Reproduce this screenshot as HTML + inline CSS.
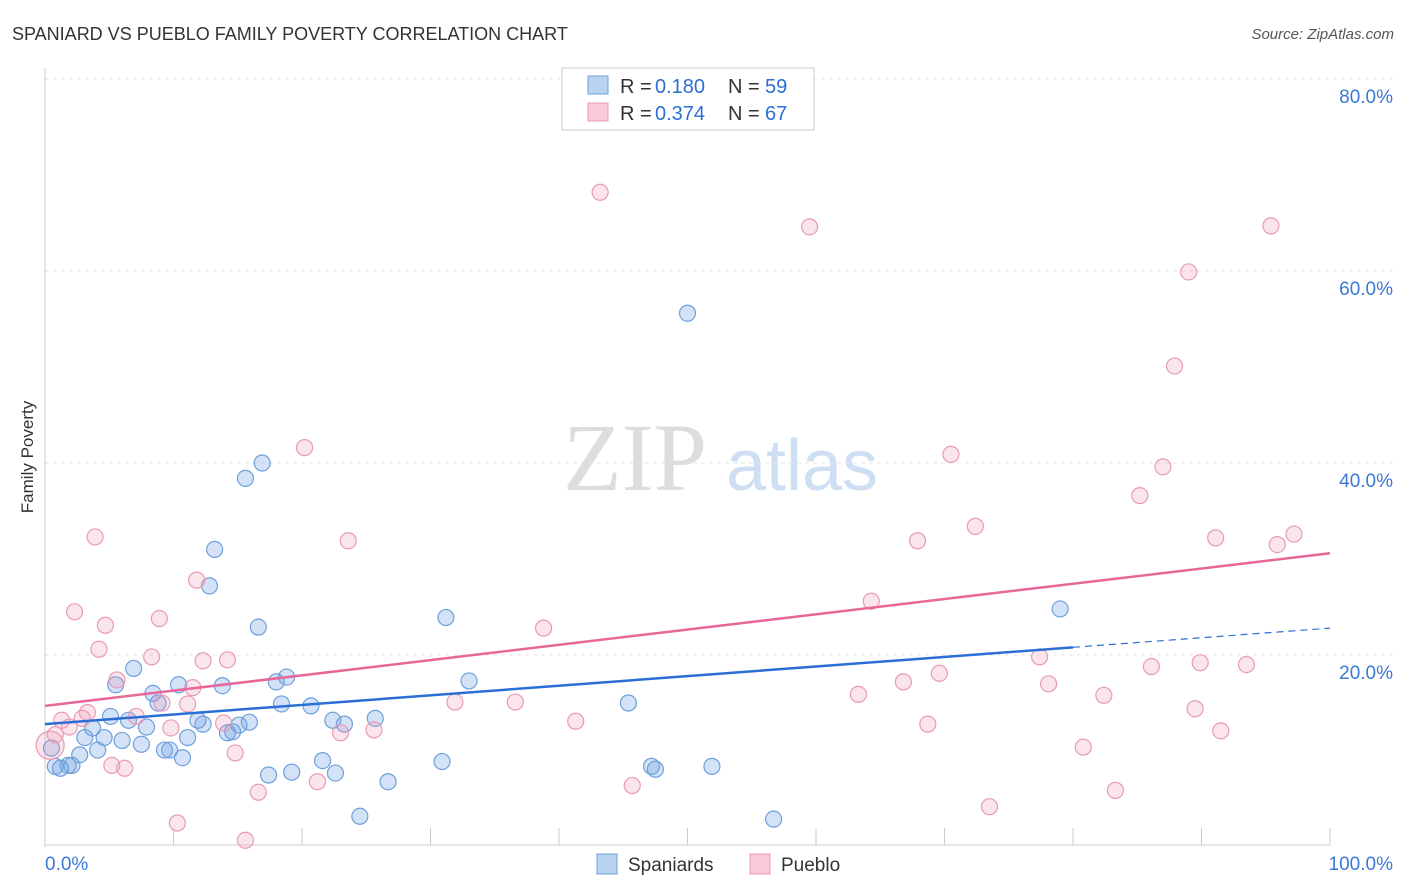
<!DOCTYPE html>
<html><head><meta charset="utf-8"><style>
body{margin:0;background:#fff;font-family:"Liberation Sans",sans-serif;}
svg{display:block}
</style></head><body>
<svg id="chart" width="1406" height="892">
<text x="12" y="40" font-size="18" fill="#333">SPANIARD VS PUEBLO FAMILY POVERTY CORRELATION CHART</text>
<text x="1394" y="39" font-size="15" fill="#555" font-style="italic" text-anchor="end">Source: ZipAtlas.com</text>
<text x="33" y="457" font-size="17" fill="#333" text-anchor="middle" transform="rotate(-90 33 457)">Family Poverty</text>
<g id="watermark">
<text x="635" y="490" font-size="96" fill="#ddd" font-family="Liberation Serif,serif" text-anchor="middle">ZIP</text>
<text x="802" y="490" font-size="72" fill="#cfdff3" text-anchor="middle">atlas</text>
</g>
<g id="grid"></g><g id="axes"></g><g id="pts"></g><g id="lines"></g>
<g>
<rect x="562" y="68" width="252" height="62" fill="#fff" stroke="#ccc"/>
<rect x="588" y="76" width="20" height="18" fill="#b9d3f3" stroke="#6fa0dc"/>
<rect x="588" y="103" width="20" height="18" fill="#f8c9d8" stroke="#e89ab5"/>
<text x="620" y="93" font-size="20" fill="#333">R =</text>
<text x="655" y="93" font-size="20" fill="#2b6fd6">0.180</text>
<text x="728" y="93" font-size="20" fill="#333">N =</text>
<text x="765" y="93" font-size="20" fill="#2b6fd6">59</text>
<text x="620" y="120" font-size="20" fill="#333">R =</text>
<text x="655" y="120" font-size="20" fill="#2b6fd6">0.374</text>
<text x="728" y="120" font-size="20" fill="#333">N =</text>
<text x="765" y="120" font-size="20" fill="#2b6fd6">67</text>
</g>
<g>
<rect x="597" y="854" width="20" height="20" fill="#b9d3f3" stroke="#6fa0dc"/>
<text x="628" y="871" font-size="19" fill="#333">Spaniards</text>
<rect x="750" y="854" width="20" height="20" fill="#f8c9d8" stroke="#e89ab5"/>
<text x="781" y="871" font-size="19" fill="#333">Pueblo</text>
</g>
</svg>
<script>
const yTicks=[20,40,60,80];
const xTickLabels=["0.0%","100.0%"];
const blueX=[0.5,0.8,1.2,1.8,2.1,2.7,3.1,3.7,4.1,4.6,5.1,5.5,6.0,6.5,6.9,7.5,7.9,8.4,8.8,9.3,9.7,10.4,10.7,11.1,11.9,12.3,12.8,13.2,13.8,14.2,14.6,15.1,15.6,15.9,16.6,16.9,17.4,18.0,18.4,18.8,19.2,20.7,21.6,22.4,22.6,23.3,24.5,25.7,26.7,30.9,31.2,33.0,45.4,47.2,47.5,50.0,51.9,56.7,79.0];
const blueY=[10.3,8.4,8.2,8.5,8.5,9.6,11.4,12.4,10.1,11.4,13.6,16.9,11.1,13.2,18.6,10.7,12.5,16.0,15.0,10.1,10.1,16.9,9.3,11.4,13.2,12.8,27.2,31.0,16.8,11.9,12.0,12.7,38.4,13.0,22.9,40.0,7.5,17.2,14.9,17.7,7.8,14.7,9.0,13.2,7.7,12.8,3.2,13.4,6.8,8.9,23.9,17.3,15.0,8.4,8.1,55.6,8.4,2.9,24.8];
const pinkX=[0.4,0.8,1.3,1.9,2.3,2.9,3.3,3.9,4.2,4.7,5.2,5.6,6.2,7.1,8.3,8.9,9.1,9.8,10.3,11.1,11.5,11.8,12.3,13.9,14.2,14.8,15.6,16.6,20.2,21.2,23.0,23.6,25.6,31.9,36.6,38.8,41.3,43.2,45.7,59.5,63.3,64.3,66.8,67.9,68.7,69.6,70.5,72.4,73.5,77.4,78.1,80.8,82.4,83.3,85.2,86.1,87.0,87.9,89.0,89.5,89.9,91.1,91.5,93.5,95.4,95.9,97.2];
const pinkY=[10.6,11.7,13.2,12.5,24.5,13.4,14.0,32.3,20.6,23.1,8.5,17.4,8.2,13.6,19.8,23.8,15.0,12.4,2.5,14.9,16.6,27.8,19.4,12.9,19.5,9.8,0.7,5.7,41.6,6.8,11.9,31.9,12.2,15.1,15.1,22.8,13.1,68.2,6.4,64.6,15.9,25.6,17.2,31.9,12.8,18.1,40.9,33.4,4.2,19.8,17.0,10.4,15.8,5.9,36.6,18.8,39.6,50.1,59.9,14.4,19.2,32.2,12.1,19.0,64.7,31.5,32.6];
const blueTrend=[12.8,22.8];
const pinkTrend=[14.7,30.6];
const NS="http://www.w3.org/2000/svg";
const X=v=>45+v*12.85, Y=v=>847-v*9.6;
function mk(p,tag,a){const e=document.createElementNS(NS,tag);for(const k in a)e.setAttribute(k,a[k]);document.getElementById(p).appendChild(e);return e;}
yTicks.forEach(t=>{
 const g=mk('grid','line',{x1:45,x2:1394,y1:Y(t),y2:Y(t),stroke:'#e3e3e3','stroke-dasharray':'4,4'});
 
 
 const l=mk('grid','text',{x:1393,y:Y(t)+24,'font-size':19,fill:'#3b78d8','text-anchor':'end'});
 l.textContent=t.toFixed(1)+'%';
 
 
});
mk('axes','line',{x1:45,x2:45,y1:68,y2:847,stroke:'#ccc'});
mk('axes','line',{x1:45,x2:1330,y1:845,y2:845,stroke:'#ccc'});
for(let i=0;i<=10;i++){mk('axes','line',{x1:X(i*10),x2:X(i*10),y1:828,y2:845,stroke:'#ccc'});}
const xl0=mk('axes','text',{x:45,y:870,'font-size':19,fill:'#3b78d8'});xl0.textContent=xTickLabels[0];


const xl1=mk('axes','text',{x:1393,y:870,'font-size':19,fill:'#3b78d8','text-anchor':'end'});xl1.textContent=xTickLabels[1];


blueX.forEach((x,i)=>{const c=mk('pts','circle',{cx:X(x),cy:Y(blueY[i]),r:8,fill:'rgba(110,160,225,0.3)',stroke:'#6fa0dc','stroke-width':1.2});
 
 });
pinkX.forEach((x,i)=>{const c=mk('pts','circle',{cx:X(x),cy:Y(pinkY[i]),r:i==0?14:8,fill:'rgba(240,150,180,0.25)',stroke:'#e89ab5','stroke-width':1.2});
 
 });
const by=x=>blueTrend[0]+(blueTrend[1]-blueTrend[0])*x/100;
const b1=mk('lines','line',{x1:X(0),y1:Y(by(0)),x2:X(80),y2:Y(by(80)),stroke:'#2b6fd6','stroke-width':2.5});


const b2=mk('lines','line',{x1:X(80),y1:Y(by(80)),x2:X(100),y2:Y(by(100)),stroke:'#2b6fd6','stroke-width':1.2,'stroke-dasharray':'7,5'});


const p1=mk('lines','line',{x1:X(0),y1:Y(pinkTrend[0]),x2:X(100),y2:Y(pinkTrend[1]),stroke:'#e8679a','stroke-width':2.5});


</script>
</body></html>
